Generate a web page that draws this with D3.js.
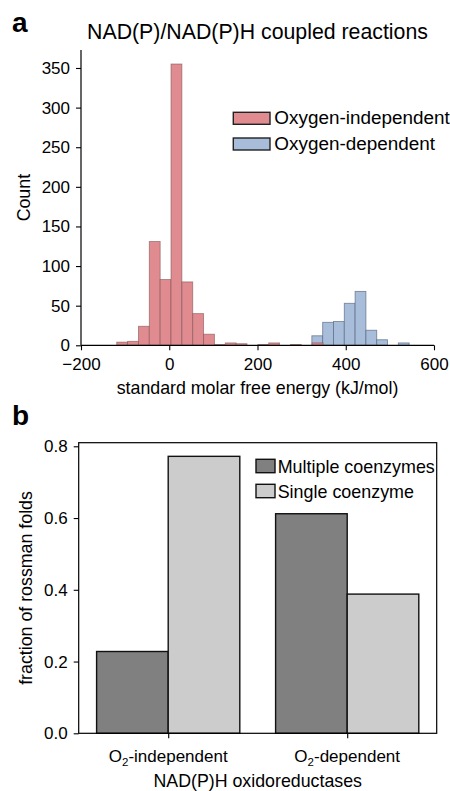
<!DOCTYPE html>
<html>
<head>
<meta charset="utf-8">
<script src="https://cdn.jsdelivr.net/npm/d3@7"></script>
<style>
  body { margin: 0; background: #fff; }
  svg text { font-family: "Liberation Sans", Arial, Helvetica, sans-serif; fill: #000; }
</style>
</head>
<body>
<svg id="chart" width="450" height="791"></svg>
<script>
// ---------- Panel a data ----------
const redBinEdges = [-119, -94.4, -69.8, -45.2, -20.6, 4, 28.6, 53.2, 77.8, 102.4, 127, 151.6, 176.2, 200.8, 225.4, 250, 274.6, 299.2, 323.8, 348.4];
const redCounts   = [4, 5, 24, 131, 83, 355, 80, 40, 14, 1, 3, 2, 0, 1, 3, 0, 1, 0, 3];
const blueBinEdges = [323.2, 347.7, 372.2, 396.7, 421.2, 445.7, 470.2, 494.7, 519.2, 543.7];
const blueCounts   = [12, 29, 30, 53, 68, 19, 7, 0, 3];
const histXTicks = [-200, 0, 200, 400, 600];
const histYTicks = [0, 50, 100, 150, 200, 250, 300, 350];
const histSeriesNames = ["Oxygen-independent", "Oxygen-dependent"];

// ---------- Panel b data ----------
const barCategories = ["O2-independent", "O2-dependent"];
const barSeriesNames = ["Multiple coenzymes", "Single coenzyme"];
const multipleValues = [0.228, 0.612];
const singleValues   = [0.772, 0.388];
const barYTicks = [0.0, 0.2, 0.4, 0.6, 0.8];

const svg = d3.select("#chart");
const TICK_FS = 17;

// ================= Panel a =================
const ax = d3.scaleLinear().domain([-200, 600]).range([81, 434]);
const ay = d3.scaleLinear().domain([0, 372.7]).range([345.3, 50]);

const redFill = "#e08b8f", redStroke = "#7a4e51";
const blueFill = "#a7bdda", blueStroke = "#56647a";

const blueBins = blueCounts.map((c, i) => ({x0: blueBinEdges[i], x1: blueBinEdges[i + 1], c}));
const redBins = redCounts.map((c, i) => ({x0: redBinEdges[i], x1: redBinEdges[i + 1], c}));

const ga = svg.append("g");
ga.selectAll("rect.blue").data(blueBins.filter(d => d.c > 0)).join("rect")
  .attr("class", "blue")
  .attr("x", d => ax(d.x0)).attr("width", d => ax(d.x1) - ax(d.x0))
  .attr("y", d => ay(d.c)).attr("height", d => ay(0) - ay(d.c))
  .attr("fill", blueFill).attr("stroke", blueStroke).attr("stroke-opacity", 0.7).attr("stroke-width", 0.9);
ga.selectAll("rect.red").data(redBins.filter(d => d.c > 0)).join("rect")
  .attr("class", "red")
  .attr("x", d => ax(d.x0)).attr("width", d => ax(d.x1) - ax(d.x0))
  .attr("y", d => ay(d.c)).attr("height", d => ay(0) - ay(d.c))
  .attr("fill", redFill).attr("stroke", redStroke).attr("stroke-opacity", 0.6).attr("stroke-width", 0.9);

// axes a
const xAxisA = d3.axisBottom(ax).tickValues(histXTicks).tickSize(5).tickPadding(4)
  .tickFormat(d => d < 0 ? "\u2212" + Math.abs(d) : d);
const gxa = svg.append("g").attr("transform", `translate(0,${ay(0)})`).call(xAxisA);
gxa.select(".domain").attr("d", `M${ax(-200)},0H${ax(600)}`);
const yAxisA = d3.axisLeft(ay).tickValues(histYTicks).tickSize(5).tickPadding(6);
const gya = svg.append("g").attr("transform", `translate(${ax(-200)},0)`).call(yAxisA);
gya.select(".domain").attr("d", `M0,${ay(0)}V${ay(372.7)}`);
[gxa, gya].forEach(g => {
  g.selectAll("text").attr("font-size", TICK_FS).attr("font-family", "Liberation Sans, Arial, sans-serif");
  g.selectAll("line").attr("stroke", "#000").attr("stroke-width", 1.1);
  g.select(".domain").attr("stroke", "#000").attr("stroke-width", 1.2);
});
gxa.selectAll("text").attr("dy", "0.71em").attr("y", 12.3);

svg.append("text").attr("x", ax(200)).attr("y", 39).attr("text-anchor", "middle")
  .attr("font-size", 21.3).text("NAD(P)/NAD(P)H coupled reactions");
svg.append("text").attr("x", ax(200)).attr("y", 393.5).attr("text-anchor", "middle")
  .attr("font-size", 17.8).text("standard molar free energy (kJ/mol)");
svg.append("text").attr("transform", `translate(30,${(ay(0) + ay(372.7)) / 2}) rotate(-90)`)
  .attr("text-anchor", "middle").attr("font-size", 17.8).text("Count");
svg.append("text").attr("x", 12).attr("y", 31.7).attr("font-size", 28).attr("font-weight", "bold").text("a");

// legend a
const legA = svg.append("g");
[[histSeriesNames[0], redFill, 112.3, 123.8], [histSeriesNames[1], blueFill, 138, 149.6]].forEach(([name, fill, py, by]) => {
  legA.append("rect").attr("x", 233.3).attr("y", py).attr("width", 36.7).attr("height", 12)
    .attr("fill", fill).attr("stroke", "#222").attr("stroke-width", 1.4);
  legA.append("text").attr("x", 274.3).attr("y", by).attr("font-size", 18.9).text(name);
});

// ================= Panel b =================
const bx = d3.scaleLinear().domain([-0.5, 1.5]).range([78.7, 436.7]);
const by = d3.scaleLinear().domain([0, 0.81]).range([733.3, 442.7]);
const barW = 0.4;
const multiFill = "#808080", singleFill = "#cccccc";

const barData = [];
barCategories.forEach((c, i) => {
  barData.push({pos: i - barW, v: multipleValues[i], fill: multiFill});
  barData.push({pos: i, v: singleValues[i], fill: singleFill});
});

svg.append("g").selectAll("rect").data(barData).join("rect")
  .attr("x", d => bx(d.pos)).attr("width", d => bx(d.pos + barW) - bx(d.pos))
  .attr("y", d => by(d.v)).attr("height", d => by(0) - by(d.v))
  .attr("fill", d => d.fill).attr("stroke", "#111").attr("stroke-width", 1.4);

// frame
svg.append("rect").attr("x", bx(-0.5)).attr("y", by(0.81)).attr("width", bx(1.5) - bx(-0.5))
  .attr("height", by(0) - by(0.81)).attr("fill", "none").attr("stroke", "#000").attr("stroke-width", 1.2);

const yAxisB = d3.axisLeft(by).tickValues(barYTicks).tickSize(5).tickPadding(6).tickFormat(d3.format(".1f"));
const gyb = svg.append("g").attr("transform", `translate(${bx(-0.5)},0)`).call(yAxisB);
gyb.select(".domain").remove();
gyb.selectAll("text").attr("font-size", TICK_FS).attr("font-family", "Liberation Sans, Arial, sans-serif");
gyb.selectAll("line").attr("stroke", "#000").attr("stroke-width", 1.1);

const xAxisB = d3.axisBottom(bx).tickValues([0, 1]).tickSize(5).tickFormat("");
const gxb = svg.append("g").attr("transform", `translate(0,${by(0)})`).call(xAxisB);
gxb.select(".domain").remove();
gxb.selectAll("line").attr("stroke", "#000").attr("stroke-width", 1.1);

barCategories.forEach((c, i) => {
  const t = svg.append("text").attr("x", bx(i)).attr("y", 761.7).attr("text-anchor", "middle").attr("font-size", TICK_FS);
  t.append("tspan").text("O");
  t.append("tspan").attr("font-size", 11.5).attr("dy", 4).text("2");
  t.append("tspan").attr("dy", -4).text(c.slice(2));
});

svg.append("text").attr("x", (bx(-0.5) + bx(1.5)) / 2).attr("y", 786.7).attr("text-anchor", "middle")
  .attr("font-size", 17.8).text("NAD(P)H oxidoreductases");
svg.append("text").attr("transform", `translate(31.5,${(by(0) + by(0.81)) / 2}) rotate(-90)`)
  .attr("text-anchor", "middle").attr("font-size", 17.8).text("fraction of rossman folds");
svg.append("text").attr("x", 12).attr("y", 425).attr("font-size", 28).attr("font-weight", "bold").text("b");

// legend b
const legB = svg.append("g");
[[barSeriesNames[0], multiFill, 459.3, 473.4], [barSeriesNames[1], singleFill, 484.3, 498.4]].forEach(([name, fill, py, bb]) => {
  legB.append("rect").attr("x", 256).attr("y", py).attr("width", 19).attr("height", 13.4)
    .attr("fill", fill).attr("stroke", "#111").attr("stroke-width", 1.4);
  legB.append("text").attr("x", 277.7).attr("y", bb).attr("font-size", 17.9).text(name);
});
</script>
</body>
</html>
